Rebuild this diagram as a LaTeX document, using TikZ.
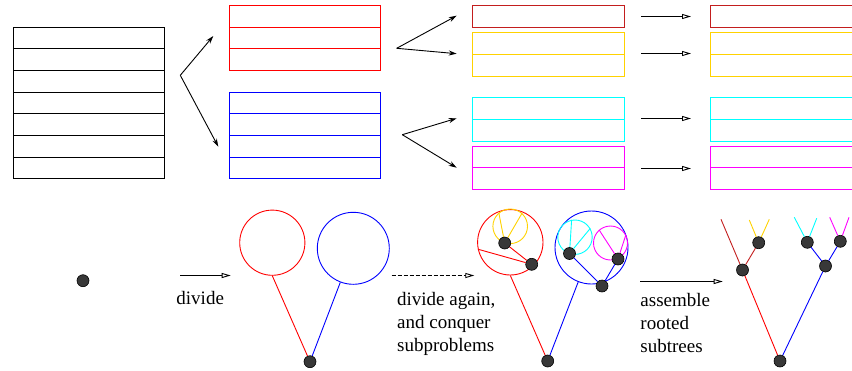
\documentclass[tikz,border=0pt]{standalone}
\usepackage{fontspec}
\setmainfont{Liberation Serif}
\usetikzlibrary{arrows.meta}

\definecolor{darkred}{RGB}{195,30,30}
\definecolor{gold}{RGB}{255,210,0}
\definecolor{aqua}{RGB}{0,255,255}
\definecolor{fuchsia}{RGB}{255,0,255}

\newcommand{\rowh}{21.65}
% block of rows: colour, left, top, right, number of rows (edges kept on whole points)
\newcommand{\rowbox}[5]{%
    \draw[#1,line width=1pt] ({round(#2)+0.5},{round(#3)+0.5}) rectangle ({round(#4)+0.5},{round(#3+\rowh*#5)+0.5})
        \foreach \row in {1,...,#5} {({round(#2)+0.5},{round(#3+\rowh*\row)+0.5}) -- ({round(#4)+0.5},{round(#3+\rowh*\row)+0.5})};
}

\begin{document}
\begin{tikzpicture}[x=1pt,y=-1pt,line width=0.9pt,
    vertex/.style={circle,draw=black,fill=black!78,line width=0.6pt,inner sep=0pt,minimum size=12pt},
    sub/.style={circle,draw,inner sep=0pt,minimum size=#1},
    fork/.style={-{Stealth[length=8pt,width=5pt]}},
    pass/.style={-{Triangle[open,length=9pt,width=5pt]}},
    steplabel/.style={anchor=north west,align=left,inner sep=0pt,font=\fontsize{19}{22.7}\selectfont}]
    \useasboundingbox (0,0) rectangle (852,370);
    \clip (0,0) rectangle (852,370);

    % arrays split into halves, then quarters
    \rowbox{black}{13}{26.7}{164.3}{7}
    \rowbox{red}{229}{5}{380.3}{3}
    \rowbox{blue}{229}{91.7}{380.3}{4}
    \foreach \x in {472.3,710.3} {
        \rowbox{darkred}{\x}{5}{\x+151.4}{1}
        \rowbox{gold}{\x}{32.3}{\x+151.4}{2}
        \rowbox{aqua}{\x}{97.3}{\x+151.4}{2}
        \rowbox{fuchsia}{\x}{145.7}{\x+151.4}{2}
    }

    \coordinate (cut) at (180.3,75.3);
    \coordinate (cutr) at (213.3,36);
    \coordinate (cutb) at (218.3,146.7);
    \draw[fork] (cut) -- (cutr);
    \draw[fork] (cut) -- (cutb);
    \coordinate (cutr0) at (396.7,48.3);
    \coordinate (cutr1) at (456.7,15.7);
    \coordinate (cutr2) at (456.7,53.7);
    \draw[fork] (cutr0) -- (cutr1);
    \draw[fork] (cutr0) -- (cutr2);
    \coordinate (cutb0) at (402.3,134.7);
    \coordinate (cutb1) at (456.7,118.3);
    \coordinate (cutb2) at (456.7,167.7);
    \draw[fork] (cutb0) -- (cutb1);
    \draw[fork] (cutb0) -- (cutb2);
    \foreach \y [count=\i] in {16.5,53.5,118.5,168.5} {
        \coordinate (pa\i) at (641,\y);
        \coordinate (pb\i) at (691,\y);
        \draw[pass] (pa\i) -- (pb\i);
    }

    % single point
    \node[vertex] (seed) at (83,280.7) {};
    \coordinate (d1a) at (180.3,275.5);
    \coordinate (d1b) at (230.7,275.5);
    \draw[pass] (d1a) -- (d1b);
    \node[steplabel] (t-divide) at (176,291) {divide};

    % two halves
    \node[sub=65.2pt,draw=red] (half1) at (272.3,242.7) {};
    \node[sub=72pt,draw=blue] (half2) at (353.3,248.3) {};
    \node[vertex] (root1) at (310,361.7) {};
    \draw[red] (root1) -- (half1.south);
    \draw[blue] (root1) -- (half2);

    \coordinate (d2a) at (391.7,275.5);
    \coordinate (d2b) at (474.3,275.5);
    \draw[pass,dash pattern=on 4pt off 2pt] (d2a) -- (d2b);
    \node[steplabel] (t-again) at (396.7,292) {divide again,\\and conquer\\subproblems};

    % halves split again
    \node[sub=65.4pt,draw=red] (big1) at (510.3,242.3) {};
    \node[sub=34.6pt,draw=gold] (q1) at (510.2,226.3) {};
    \node[sub=73pt,draw=blue] (big2) at (591.5,247.5) {};
    \node[sub=34.4pt,draw=aqua] (q3) at (575,237.2) {};
    \node[sub=34pt,draw=fuchsia] (q4) at (610.5,243) {};
    \node[vertex] (r1) at (504.7,243) {};
    \node[vertex] (r2) at (531.7,264.3) {};
    \node[vertex] (c1) at (569.5,253.5) {};
    \node[vertex] (m1) at (618,259) {};
    \node[vertex] (b1) at (602,286) {};
    \node[vertex] (root2) at (547.7,361) {};
    \draw[gold] (r1) -- (q1.130) (r1) -- (q1.48);
    \draw[red] (r1) -- (r2) (r2) -- (big1.192) (root2) -- (big1.south);
    \draw[aqua] (c1) -- (q3.101) (c1) -- (q3.30);
    \draw[fuchsia] (m1) -- (q4.131) (m1) -- (q4.28);
    \draw[blue] (b1) -- (c1) (b1) -- (m1) (root2) -- (big2);

    \coordinate (d3a) at (640,281.5);
    \coordinate (d3b) at (722.7,281.5);
    \draw[pass] (d3a) -- (d3b);
    \node[steplabel] (t-assemble) at (640,293) {assemble\\rooted\\subtrees};

    % assembled tree
    \node[vertex] (root3) at (780,361) {};
    \node[vertex] (t1) at (742.5,270) {};
    \node[vertex] (t2) at (758.7,242.7) {};
    \node[vertex] (t3) at (825.5,266) {};
    \node[vertex] (t4) at (807.3,242.3) {};
    \node[vertex] (t5) at (840.3,241.3) {};
    \coordinate (l1) at (721,219.3);
    \coordinate (l2) at (749.3,220);
    \coordinate (l3) at (769.3,219.3);
    \coordinate (l4) at (794.3,217.3);
    \coordinate (l5) at (816.7,218.3);
    \coordinate (l6) at (829.7,217.3);
    \coordinate (l7) at (849,217.3);
    \draw[red] (root3) -- (t1);
    \draw[darkred] (t1) -- (l1) (t1) -- (t2);
    \draw[gold] (t2) -- (l2) (t2) -- (l3);
    \draw[blue] (root3) -- (t3) (t3) -- (t4) (t3) -- (t5);
    \draw[aqua] (t4) -- (l4) (t4) -- (l5);
    \draw[fuchsia] (t5) -- (l6) (t5) -- (l7);
\end{tikzpicture}
\end{document}
